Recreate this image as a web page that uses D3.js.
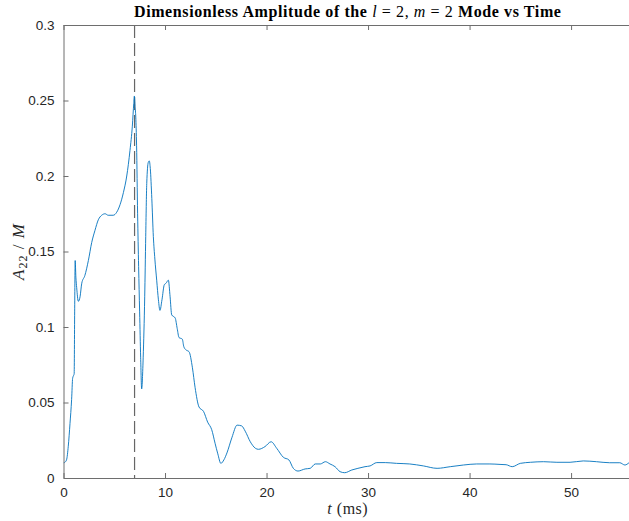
<!DOCTYPE html>
<html>
<head>
<meta charset="utf-8">
<script src="https://cdn.jsdelivr.net/npm/d3@7"></script>
<style>
  body { margin: 0; background: #fff; }
  svg { display: block; }
</style>
</head>
<body>
<script>
const width = 629;
const height = 521;
const margin = {top: 25, right: -3, bottom: 43, left: 63.5};

// time (ms) and A22/M
const time = [0, 0.15, 0.3, 0.47, 0.64, 0.8, 0.9, 1.0, 1.05, 1.1, 1.15, 1.22, 1.3, 1.46, 1.63, 1.8, 2.1, 2.45, 2.78, 3.1, 3.43, 3.76,
  4.1, 4.4, 4.9, 5.24, 5.57, 5.9, 6.23, 6.55, 6.78, 6.92, 6.98, 7.05, 7.12, 7.2, 7.3, 7.4, 7.5, 7.6, 7.7, 7.85, 8.0, 8.1,
  8.2, 8.35, 8.45, 8.55, 8.7, 8.85, 9.0, 9.18, 9.35, 9.5, 9.7, 9.93, 10.1, 10.33, 10.5, 10.66, 11.0, 11.2, 11.38, 11.7, 11.85,
  12.04, 12.37, 12.7, 12.96, 13.35, 13.8, 14.2, 14.6, 14.93, 15.2, 15.5, 15.8, 16.1, 16.6, 17.1, 17.55, 17.9, 18.4, 18.9,
  19.2, 19.85, 20.45, 21.0, 21.66, 22.2, 22.64, 23.1, 23.8, 24.3, 24.8, 25.3, 25.8, 26.25, 26.75, 27.24, 27.7, 28.4, 29.0,
  29.7, 30.2, 30.86, 31.7, 32.8, 34.1, 35.45, 36.8, 38.1, 39.4, 40.7, 42.0, 43.0, 43.6, 44.2, 45.0, 46.0, 47.3, 48.6, 49.9,
  51.2, 52.5, 53.8, 54.8, 55.3, 55.7];
const amp = [0.0100, 0.0105, 0.0120, 0.0210, 0.0360, 0.0520, 0.0660, 0.0680, 0.0690, 0.1100, 0.1440, 0.1330, 0.1260, 0.1170, 0.1200, 0.1290, 0.1340, 0.1440, 0.1560, 0.1640, 0.1710, 0.1740,
  0.1750, 0.1740, 0.1740, 0.1760, 0.1810, 0.1890, 0.2000, 0.2170, 0.2330, 0.2480, 0.2530, 0.2460, 0.2390, 0.2200, 0.1750, 0.1400, 0.1100, 0.0800, 0.0590, 0.0800, 0.1200, 0.1600,
  0.1950, 0.2090, 0.2100, 0.2050, 0.1850, 0.1600, 0.1450, 0.1310, 0.1180, 0.1110, 0.1180, 0.1280, 0.1290, 0.1310, 0.1200, 0.1080, 0.1060, 0.0990, 0.0930, 0.0920, 0.0870,
  0.0850, 0.0836, 0.0730, 0.0600, 0.0470, 0.0440, 0.0370, 0.0320, 0.0230, 0.0160, 0.0097, 0.0120, 0.0166, 0.0270, 0.0350, 0.0345, 0.0310, 0.0240, 0.0197,
  0.0190, 0.0208, 0.0240, 0.0197, 0.0137, 0.0120, 0.0064, 0.0046, 0.0060, 0.0064, 0.0093, 0.0093, 0.0108, 0.0093, 0.0075, 0.0042, 0.0035, 0.0053, 0.0064,
  0.0075, 0.0080, 0.0102, 0.0102, 0.0097, 0.0093, 0.0080, 0.0064, 0.0075, 0.0086, 0.0093, 0.0093, 0.0090, 0.0088, 0.0075, 0.0097, 0.0104, 0.0108, 0.0104, 0.0104,
  0.0113, 0.0108, 0.0101, 0.0101, 0.0086, 0.0101];

const xTicks = [0, 10, 20, 30, 40, 50];
const yTicks = [0, 0.05, 0.1, 0.15, 0.2, 0.25, 0.3];
const peakTime = 7;

const data = time.map((t, i) => ({t: t, a: amp[i]}));

const svg = d3.select('body')
              .append('svg')
              .attr('width', width)
              .attr('height', height);

const x0 = margin.left, x1 = width - margin.right;
const y0 = height - margin.bottom, y1 = margin.top;

const xScale = d3.scaleLinear().domain([0, 56]).range([x0, x1]);
const yScale = d3.scaleLinear().domain([0, 0.3]).range([y0, y1]);

svg.append('defs').append('clipPath')
   .attr('id', 'plot-clip')
   .append('rect')
   .attr('x', x0).attr('y', y1)
   .attr('width', x1 - x0).attr('height', y0 - y1);

// dashed line at the amplitude peak
svg.append('line')
   .attr('x1', xScale(peakTime)).attr('x2', xScale(peakTime))
   .attr('y1', yScale(0.3)).attr('y2', yScale(0))
   .attr('stroke', '#666')
   .attr('stroke-width', 1.2)
   .attr('stroke-dasharray', '13,5');

const line = d3.line()
               .x(d => xScale(d.t))
               .y(d => yScale(d.a))
               .curve(d3.curveMonotoneX);

svg.append('path')
   .datum(data)
   .attr('clip-path', 'url(#plot-clip)')
   .attr('fill', 'none')
   .attr('stroke', '#0072bd')
   .attr('stroke-width', 0.9)
   .attr('d', line);

// box axes, ticks inside
const tickFont = '"Liberation Sans", Arial, sans-serif';
const serif = '"Liberation Serif", "Times New Roman", serif';

let xAxis = d3.axisBottom(xScale).tickValues(xTicks).tickSizeInner(-5).tickSizeOuter(0).tickPadding(9).tickFormat(d3.format('d'));
let gx = svg.append('g').attr('transform', `translate(0, ${y0})`).call(xAxis);
let xAxisTop = d3.axisTop(xScale).tickValues(xTicks).tickSizeInner(-5).tickSizeOuter(0).tickFormat('');
let gxt = svg.append('g').attr('transform', `translate(0, ${y1})`).call(xAxisTop);

let yAxis = d3.axisLeft(yScale).tickValues(yTicks).tickSizeInner(-5).tickSizeOuter(0).tickPadding(9).tickFormat(d3.format('~g'));
let gy = svg.append('g').attr('transform', `translate(${x0}, 0)`).call(yAxis);

[gx, gxt, gy].forEach(g => {
  g.select('.domain').attr('stroke', '#6e6e6e').attr('stroke-width', 1);
  g.selectAll('.tick line').attr('stroke', '#6e6e6e');
  g.selectAll('.tick text')
   .attr('fill', '#262626')
   .style('font-family', tickFont)
   .style('font-size', '13.5px');
});

// title
const title = svg.append('text')
   .attr('x', (x0 + x1) / 2)
   .attr('y', 17)
   .attr('text-anchor', 'middle')
   .attr('fill', '#000')
   .style('font-family', serif)
   .style('font-size', '16px')
   .style('letter-spacing', '0.6px')
   .style('font-weight', 'bold');
title.append('tspan').text('Dimensionless Amplitude of the ');
title.append('tspan').attr('font-style', 'italic').attr('font-weight', 'normal').text('l');
title.append('tspan').attr('font-weight', 'normal').text(' = 2, ');
title.append('tspan').attr('font-style', 'italic').attr('font-weight', 'normal').text('m');
title.append('tspan').attr('font-weight', 'normal').text(' = 2 ');
title.append('tspan').text('Mode vs Time');

// x label
const xl = svg.append('text')
   .attr('x', (x0 + x1) / 2)
   .attr('y', 514)
   .attr('text-anchor', 'middle')
   .attr('fill', '#262626')
   .style('font-family', serif)
   .style('font-size', '16px')
   .style('letter-spacing', '0.5px');
xl.append('tspan').attr('font-style', 'italic').text('t');
xl.append('tspan').text('  (ms)');

// y label
const yl = svg.append('text')
   .attr('transform', `translate(24, ${(y0 + y1) / 2}) rotate(-90)`)
   .attr('text-anchor', 'middle')
   .attr('fill', '#262626')
   .style('font-family', serif)
   .style('font-size', '17px')
   .style('letter-spacing', '1px');
yl.append('tspan').attr('font-style', 'italic').text('A');
yl.append('tspan').attr('font-size', '12px').attr('dy', 3).text('22');
yl.append('tspan').attr('dy', -3).text(' / ');
yl.append('tspan').attr('font-style', 'italic').text('M');
</script>
</body>
</html>
